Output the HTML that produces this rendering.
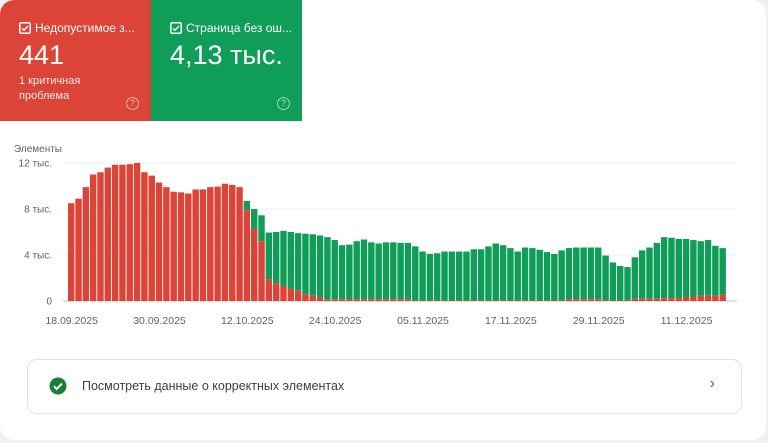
<!DOCTYPE html>
<html><head><meta charset="utf-8"><style>
body{margin:0;width:768px;height:443px;background:#eef2f8;font-family:"Liberation Sans",sans-serif;overflow:hidden;position:relative}
.card{position:absolute;left:0;top:0;width:766px;height:440px;background:#fff;border-radius:14px;overflow:hidden}
.tile{position:absolute;top:0;height:121px;width:151px;color:#fff}
.tile .h{position:absolute;left:19px;top:21px;font-size:12px;white-space:nowrap}
.tile .h svg{vertical-align:-2px;margin-right:4px}
.tile .big{position:absolute;left:19px;top:40px;font-size:27px}
.tile .sub{position:absolute;left:19px;top:74px;font-size:11px;line-height:15px;opacity:.9}
.tile .q{position:absolute;right:12px;top:97px;width:11px;height:11px;border:1.3px solid rgba(255,255,255,.6);border-radius:50%;font-size:9px;text-align:center;line-height:11px;color:rgba(255,255,255,.7)}
.btn{position:absolute;left:27px;top:359px;width:713px;height:53px;border:1px solid #e2e3e5;border-radius:10px;background:#fff}
</style></head><body>
<div class="card">
<div class="tile" style="left:0;background:#db4437;border-top-left-radius:14px">
<div class="h"><svg width="12" height="12"><rect x="0.75" y="0.75" width="10.5" height="10.5" rx="1.5" fill="none" stroke="#fff" stroke-width="1.5"/><path d="M3 6.2l2 2 4-4.2" stroke="#fff" stroke-width="1.4" fill="none"/></svg>Недопустимое з...</div>
<div class="big">441</div>
<div class="sub">1 критичная<br>проблема</div>
<div class="q">?</div></div>
<div class="tile" style="left:151px;background:#0f9d58">
<div class="h"><svg width="12" height="12"><rect x="0.75" y="0.75" width="10.5" height="10.5" rx="1.5" fill="none" stroke="#fff" stroke-width="1.5"/><path d="M3 6.2l2 2 4-4.2" stroke="#fff" stroke-width="1.4" fill="none"/></svg>Страница без ош...</div>
<div class="big">4,13 тыс.</div>
<div class="q">?</div></div>
<svg id="chart" width="768" height="340" style="position:absolute;left:0;top:0"></svg>
<div class="btn">
<svg width="18" height="18" style="position:absolute;left:21px;top:17px"><circle cx="9" cy="9" r="8.5" fill="#188038"/><path d="M5 9.3l2.7 2.6 5.3-5.3" stroke="#fff" stroke-width="2" fill="none"/></svg>
<div style="position:absolute;left:54px;top:19px;font-size:12.5px;color:#3c4043">Посмотреть данные о корректных элементах</div>
<div style="position:absolute;right:26px;top:15px;font-size:16px;color:#5f6368">&#8250;</div>
</div>
</div>
<script>
const totals=[8.5,8.9,9.9,11.0,11.2,11.6,11.85,11.85,11.9,12.0,11.2,10.9,10.3,9.9,9.5,9.45,9.35,9.7,9.7,9.9,9.95,10.2,10.1,9.9,8.7,8.0,7.45,5.95,6.0,6.1,6.0,5.9,5.85,5.8,5.7,5.55,5.3,4.85,4.9,5.2,5.35,5.1,5.0,5.1,5.1,5.05,5.05,4.75,4.3,4.1,4.15,4.3,4.3,4.3,4.3,4.5,4.5,4.75,5.0,4.85,4.6,4.3,4.65,4.6,4.45,4.25,4.1,4.4,4.6,4.65,4.65,4.65,4.65,3.95,3.35,3.05,2.95,3.8,4.4,4.65,5.05,5.55,5.5,5.4,5.4,5.3,5.2,5.3,4.8,4.6];
const reds=[8.5,8.9,9.9,11.0,11.2,11.6,11.85,11.85,11.9,12.0,11.2,10.9,10.3,9.9,9.5,9.45,9.35,9.7,9.7,9.9,9.95,10.2,10.1,9.9,7.9,6.3,5.2,1.9,1.55,1.3,1.05,0.9,0.6,0.45,0.3,0.15,0.15,0.15,0.15,0.15,0.15,0.15,0.15,0.15,0.15,0.15,0.15,0.05,0.05,0.05,0.05,0.05,0.05,0.05,0.05,0.05,0.05,0.05,0.05,0.05,0.05,0.05,0.05,0.05,0.05,0.05,0.05,0.05,0.15,0.15,0.15,0.15,0.15,0.05,0.05,0.05,0.05,0.2,0.2,0.2,0.2,0.25,0.25,0.25,0.35,0.35,0.45,0.45,0.45,0.55];
const yTicks=[0,4,8,12];
const yLabels=["0","4 тыс.","8 тыс.","12 тыс."];
const xLabels=["18.09.2025","30.09.2025","12.10.2025","24.10.2025","05.11.2025","17.11.2025","29.11.2025","11.12.2025"];
const xLabelIdx=[0,12,24,36,48,60,72,84];
const svg=document.getElementById('chart');const NS='http://www.w3.org/2000/svg';
const x0=68,bw=7.32,base=301,k=11.5;
const X=i=>x0+i*bw, Y=v=>base-v*k;
function el(t,a){const e=document.createElementNS(NS,t);for(const n in a)e.setAttribute(n,a[n]);svg.appendChild(e);return e;}
const yt=el('text',{x:14,y:152,'font-size':10,fill:'#5f6368'});yt.textContent='Элементы';


yTicks.forEach((t,i)=>{
 const g=el('line',{x1:63,x2:737,y1:Y(t),y2:Y(t),stroke:t?'#eceff1':'#bdc1c6','stroke-width':1});
 
 
 const l=el('text',{x:52,y:Y(t)+3.5,'font-size':10,fill:'#5f6368','text-anchor':'end'});l.textContent=yLabels[i];
 
 
});
totals.forEach((v,i)=>{
 const r=reds[i];
 if(v>r){const g=el('rect',{x:X(i),y:Y(v),width:bw-0.9,height:(v-r)*k,fill:'#0f9d58'});
 
 }
 const b=el('rect',{x:X(i),y:Y(r),width:bw-0.9,height:Math.max(r*k,0.6),fill:'#db4437'});
 
 
});
xLabels.forEach((s,j)=>{
 const t=el('text',{x:X(xLabelIdx[j])+bw/2,y:324,'font-size':10.5,fill:'#5f6368','text-anchor':'middle'});t.textContent=s;
 
 
});
</script>
</body></html>
